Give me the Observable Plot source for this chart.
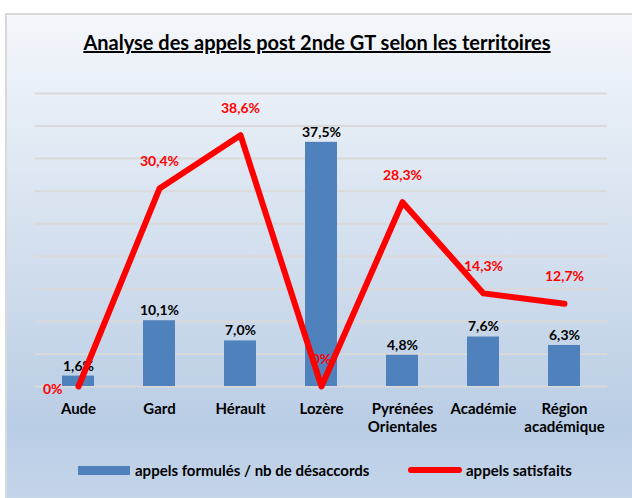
<!DOCTYPE html>
<html><head><meta charset="utf-8">
<script src="https://cdn.jsdelivr.net/npm/d3@7"></script>
<script src="https://cdn.jsdelivr.net/npm/@observablehq/plot@0.6"></script>
<style>
body{margin:0;background:#fff;font-family:Lato,"Open Sans",sans-serif;}
#wrap{position:relative;width:632px;height:498px;overflow:hidden;}
#panel{position:absolute;left:5px;top:13px;width:627px;height:485px;box-sizing:border-box;border-top:2px solid #d9d9d9;border-left:2px solid #d9d9d9;
background:linear-gradient(to bottom,#f4f7fb 0%,#e6edf6 20%,#cfdcec 55%,#b9cde5 85%,#c4d5ea 100%);}
#title{position:absolute;left:0;width:634px;top:29px;text-align:center;font-weight:bold;font-size:20px;text-decoration:underline;line-height:26px;color:#000;}
#plot{position:absolute;left:0;top:60px;}
.lg{position:absolute;font-weight:bold;font-size:15px;line-height:18px;top:461px;color:#000;white-space:nowrap;}
</style></head>
<body>
<div id="wrap">
  <div id="panel"></div>
  <div id="title">Analyse des appels post 2nde GT selon les territoires</div>
  <div id="plot"></div>
  <div style="position:absolute;left:78px;top:466px;width:52px;height:9px;background:#4F81BD;"></div>
  <div class="lg" style="left:135px;">appels formulés / nb de désaccords</div>
  <svg style="position:absolute;left:405px;top:464px;" width="60" height="12"><line x1="6" y1="6" x2="54" y2="6" stroke="#FF0000" stroke-width="6" stroke-linecap="round"/></svg>
  <div class="lg" style="left:466px;">appels satisfaits</div>
</div>
<script>
const categories = ["Aude","Gard","Hérault","Lozère","Pyrénées\nOrientales","Académie","Région\nacadémique"];
const formules = [1.6,10.1,7.0,37.5,4.8,7.6,6.3];
const satisfaits = [0,30.4,38.6,0,28.3,14.3,12.7];
const gridTicks = [0,5,10,15,20,25,30,35,40,45];

const data = categories.map((c,i)=>({cat:c, f:formules[i], s:satisfaits[i]}));
const fmt = v => v === 0 ? "0%" : d3.format(".1f")(v).replace(".", ",") + "%";

const chart = Plot.plot({
  width:632, height:380,
  marginTop:33, marginBottom:54, marginLeft:35, marginRight:25,
  x:{domain:categories, paddingInner:0.6, paddingOuter:0.3, axis:null},
  y:{domain:[0,45], axis:null},
  style:{background:"transparent", fontFamily:"Lato, 'Open Sans', sans-serif", overflow:"visible"},
  marks:[
    Plot.ruleY(gridTicks,{stroke:"#d9d9d9", strokeWidth:2}),
    Plot.barY(data,{x:"cat", y:"f", fill:"#4F81BD"}),
    Plot.text(data,{x:"cat", y:"f", text:d=>fmt(d.f), dy:-10, fontWeight:"bold", fontSize:14, fill:"#000"}),
    Plot.text(data.slice(1),{x:"cat", y:"s", text:d=>fmt(d.s), dy:-27, fontWeight:"bold", fontSize:14, fill:"#FF0000"}),
    Plot.text(data.slice(0,1),{x:"cat", y:"s", text:d=>fmt(d.s), dx:-16, dy:3, textAnchor:"end", fontWeight:"bold", fontSize:14, fill:"#FF0000"}),
    Plot.line(data,{x:"cat", y:"s", stroke:"#FF0000", strokeWidth:6, strokeLinecap:"round", strokeLinejoin:"round"}),
    Plot.text(data,{x:"cat", text:"cat", frameAnchor:"bottom", lineAnchor:"top", dy:15, lineHeight:1.2, fontWeight:"bold", fontSize:15, fill:"#000"})
  ]
});
document.getElementById("plot").appendChild(chart);
</script>
</body></html>
